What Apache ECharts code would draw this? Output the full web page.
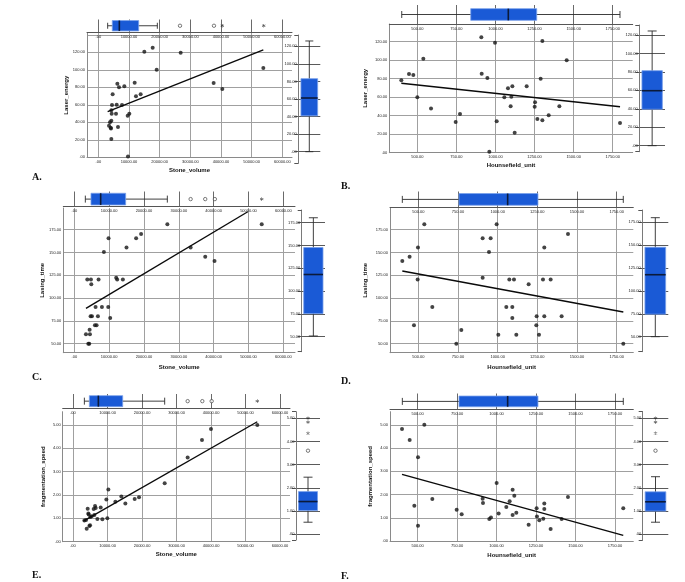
<!DOCTYPE html>
<html><head><meta charset="utf-8">
<script src="https://cdn.jsdelivr.net/npm/echarts@6/dist/echarts.min.js"></script>
<style>html,body{margin:0;padding:0;background:#fff}#c{width:685px;height:582px}</style>
</head><body><div id="c"></div>
<script>
// ---------------- data ----------------
const volumeTicks = [0, 10000, 20000, 30000, 40000, 50000, 60000];
const huTicks = [500, 750, 1000, 1250, 1500, 1750];
const energyTicks = [0, 20, 40, 60, 80, 100, 120];
const timeTicks = [50, 75, 100, 125, 150, 175];
const speedTicks = [0, 1, 2, 3, 4, 5];

const energyVsVolume = [[15000,120.8],[17720,125.3],[26850,119.6],[19020,100.2],[53800,102.1],[37600,85.0],[40430,78.1],[11850,85.3],[6200,84.2],[8480,81.2],[6740,80],[13800,72],[4670,72],[12280,69.7],[4460,59.8],[5980,60.2],[7720,59.8],[4240,53.7],[4350,49.9],[5760,49.9],[10110,49.9],[9570,47.6],[3800,40],[4240,41.9],[3480,36.2],[6410,34.7],[4020,33.9],[4130,32.8],[4240,21],[9670,0.8]];
const energyVsHU = [[397.6,78.2],[446.7,85.1],[474.4,84],[538.4,101.6],[500,59.8],[587.5,47.9],[745.3,33.2],[773,41.8],[909.5,124.7],[997,118.9],[911.7,85.4],[948,80.7],[1080,69.6],[1108,71.7],[1056.7,59.8],[1101.5,60.5],[1097,50.1],[1007.7,33.9],[960.7,1.1],[1122.8,21.6],[1199.6,71.7],[1253,54.4],[1250.8,49.7],[1300,120.7],[1289,80],[1268,36.4],[1300,35],[1340.4,40.4],[1455.6,99.8],[1408.7,50.1],[1796.9,32.1]];
const timeVsVolume = [[26710,180.9],[53800,180.9],[9825,165.5],[17740,165.5],[19170,170.2],[14980,155.6],[33390,155.6],[8490,150.5],[37580,145.4],[40250,140.6],[3720,120.5],[4770,120.5],[4870,115.1],[6960,120.5],[12020,122.4],[12300,120.5],[13930,120.5],[6100,90.2],[7920,90.2],[9730,90.2],[4670,80],[5060,80],[6770,80],[10300,78.1],[5910,70.1],[6390,70.1],[4390,65.4],[3340,60.2],[4480,60.2],[4010,50],[4290,50]];
const timeVsHU = [[399,140.6],[445,145.4],[537.8,180.9],[497.9,155.6],[495.8,120.5],[588.2,90.2],[472.7,70.1],[739.5,50],[771,65],[905.5,165.5],[955.9,165.5],[945.4,150.5],[905.5,122.4],[993.7,180.9],[1004.2,59.9],[1073.5,120.5],[1103,120.5],[1054.6,90.2],[1092.4,90.2],[1092.4,78.1],[1117.6,59.9],[1195.4,115.1],[1245.8,80],[1243.7,70.1],[1260.5,59.9],[1285.7,120.5],[1294,155.6],[1294,80],[1334,120.5],[1403.3,80],[1443.3,170.2],[1792,50]];
const speedVsVolume = [[53420,5.0],[39990,4.83],[37380,4.36],[33230,3.61],[26570,2.5],[10240,2.24],[9660,1.81],[14010,1.94],[12270,1.71],[15170,1.64],[17870,1.83],[19130,1.9],[6380,1.53],[6570,1.44],[8020,1.47],[4250,1.41],[4440,1.21],[4540,1.17],[6180,1.14],[5020,1.06],[3770,0.93],[3290,0.91],[7050,0.97],[8500,0.96],[9950,1.01],[4930,0.71],[4730,0.67],[3960,0.56],[5410,1.09],[5990,1.4]];
const speedVsHU = [[400.8,4.83],[449.3,4.35],[542.2,5.01],[502.1,3.61],[478.9,1.52],[502.1,0.66],[592.9,1.81],[747,1.35],[778.7,1.15],[911.6,1.82],[913.8,1.64],[953.9,0.95],[964.4,1.01],[1000.3,2.5],[1013,1.18],[1061.5,1.47],[1082.6,1.71],[1101.6,2.21],[1112.2,1.95],[1101.6,1.12],[1124.9,1.22],[1203,0.7],[1253.6,1.41],[1255.7,1.06],[1270.5,0.89],[1295.8,0.96],[1302.2,1.62],[1302.2,1.38],[1342.3,0.52],[1412,0.95],[1452.1,1.9],[1802.5,1.41]];

// regression line end points
const fitEnergyVolume = [[3040,52.2],[53800,122.7]];
const fitEnergyHU = [[397.6,75],[1796.9,49.7]];
const fitTimeVolume = [[3340,88.7],[49800,194.7]];
const fitTimeHU = [[399,129.7],[1792,84.7]];
const fitSpeedVolume = [[2995,0.886],[53420,5.14]];
const fitSpeedHU = [[400.8,2.87],[1802.5,0.24]];

// boxplots: [lower whisker, Q1, median, Q3, upper whisker]
const boxVolumeA = [3045, 4550, 6850, 13160, 19240];
const outVolumeA = [26630, 37710];
const extVolumeA = [40430, 53920];
const boxHUB = [400.2, 841.6, 1082, 1263.8, 1796.7];
const boxVolumeC = [3160, 4785, 7560, 14740, 26700];
const outVolumeC = [33390, 37580, 40350];
const extVolumeC = [53800];
const boxHUD = [399.2, 756.3, 1063, 1254, 1791.9];
const boxVolumeE = [3285, 4735, 7340, 14400, 26570];
const outVolumeE = [33230, 37480, 40190];
const extVolumeE = [53420];
const boxHUF = [402.8, 761.8, 1070, 1262, 1802.6];
const boxEnergyA = [0, 40.8, 61.1, 83.1, 126];
const boxEnergyB = [0, 39.5, 59.6, 81.3, 124.3];
const boxTimeC = [50.8, 75.3, 118.2, 147.8, 180.4];
const boxTimeD = [50, 74.6, 117.7, 147.7, 180];
const boxSpeedE = [0.52, 1.02, 1.41, 1.84, 2.46];
const boxSpeedF = [0.52, 1.0, 1.40, 1.83, 2.48];
const outSpeed = [3.6];
const extSpeed = [5.0, 4.83, 4.35];

// ---------------- layout ----------------
const layout = [
  {sc:[87,33,205,124.3], x:[-3695,63150], y:[0,142.1], st:[19.5,12.5], rt:[298.3,35,22,128.3], ry:[-13.2,132.8], bh:10.4, bc:6, rw:16.7, rc:8, xGap:10.4, yGap:16.7, lt:[32,172]},
  {sc:[389.3,24,243.4,128.7], x:[320.6,1878], y:[0,139.1], st:[5,19], rt:[639.3,25,25.7,126.7], ry:[-6.5,130.8], bh:11.7, bc:7, rw:20.4, rc:9, xGap:10, yGap:21.3, lt:[341,181]},
  {sc:[63.3,208,231.7,144.7], x:[-3167,63355], y:[40.1,198.8], st:[191.5,15.2], rt:[301.7,210,23.3,141.7], ry:[33.6,188.9], bh:11.7, bc:7, rw:19.3, rc:9, xGap:11.6, yGap:16.3, lt:[32,372]},
  {sc:[390,208,243.3,144.7], x:[321.5,1855], y:[40.1,198.8], st:[191.5,15.8], rt:[642.3,210,26,141.7], ry:[33.6,188.4], bh:11.7, bc:7, rw:20.7, rc:9, xGap:11.6, yGap:22, lt:[341,376]},
  {sc:[62.7,411.7,227.3,130], x:[-2995,62900], y:[0,5.57], st:[394,14.3], rt:[296,411.7,24,128.3], ry:[-0.246,5.28], bh:11, bc:7, rw:19, rc:9, xGap:9.6, yGap:16.4, lt:[32,570]},
  {sc:[390,411.7,243.3,129.3], x:[324.7,1866], y:[0,5.57], st:[393.5,15.8], rt:[642.7,411.7,25.6,128.3], ry:[-0.246,5.28], bh:10.7, bc:7, rw:20.7, rc:9, xGap:11, yGap:16.3, lt:[341,571]}
];

const panels = [
  {pts:energyVsVolume, fit:fitEnergyVolume, xt:volumeTicks, yt:energyTicks, tb:boxVolumeA, to:outVolumeA, ts:extVolumeA, rb:boxEnergyA, ro:[], rs:[], xn:'Stone_volume', yn:'Laser_energy', letter:'A.'},
  {pts:energyVsHU, fit:fitEnergyHU, xt:huTicks, yt:energyTicks, tb:boxHUB, to:[], ts:[], rb:boxEnergyB, ro:[], rs:[], xn:'Hounsefield_unit', yn:'Laser_energy', letter:'B.'},
  {pts:timeVsVolume, fit:fitTimeVolume, xt:volumeTicks, yt:timeTicks, tb:boxVolumeC, to:outVolumeC, ts:extVolumeC, rb:boxTimeC, ro:[], rs:[], xn:'Stone_volume', yn:'Lasing_time', letter:'C.'},
  {pts:timeVsHU, fit:fitTimeHU, xt:huTicks, yt:timeTicks, tb:boxHUD, to:[], ts:[], rb:boxTimeD, ro:[], rs:[], xn:'Hounsefield_unit', yn:'Lasing_time', letter:'D.'},
  {pts:speedVsVolume, fit:fitSpeedVolume, xt:volumeTicks, yt:speedTicks, tb:boxVolumeE, to:outVolumeE, ts:extVolumeE, rb:boxSpeedE, ro:outSpeed, rs:extSpeed, xn:'Stone_volume', yn:'fragmentation_speed', letter:'E.'},
  {pts:speedVsHU, fit:fitSpeedHU, xt:huTicks, yt:speedTicks, tb:boxHUF, to:[], ts:[], rb:boxSpeedF, ro:outSpeed, rs:extSpeed, xn:'Hounsefield_unit', yn:'fragmentation_speed', letter:'F.'}
];

// ---------------- build ----------------
const FONT = '"Liberation Sans", Arial, sans-serif';
const BOX = '#1a5ad6', BOXEDGE = '#79a0ea', MED = '#0b1a3a', WHISK = '#2a2a2a';
const STAR = 'path://M-0.15 -1 L0.15 -1 L0.15 1 L-0.15 1 Z M0.791 0.63 L0.941 0.37 L-0.791 -0.63 L-0.941 -0.37 Z M0.941 -0.37 L0.791 -0.63 L-0.941 0.37 L-0.791 0.63 Z';
const fmt = v => v === 0 ? '.00' : v.toFixed(2);
const labelFor = ticks => v => ticks.some(t => Math.abs(t - v) < 1e-6) ? fmt(v) : '';

function boxRenderer(horizontal, size, cap) {
  return function (params, api) {
    const cs = params.coordSys;
    const v = [0,1,2,3,4].map(i => api.value(i));
    const ws = {stroke: WHISK, lineWidth: 0.9};
    const els = [];
    if (horizontal) {
      const c = cs.y + cs.height / 2;
      const p = v.map(x => api.coord([x, 0.5])[0]);
      els.push({type:'line', shape:{x1:p[0], y1:c, x2:p[4], y2:c}, style:ws});
      els.push({type:'line', shape:{x1:p[0], y1:c-cap/2, x2:p[0], y2:c+cap/2}, style:ws});
      els.push({type:'line', shape:{x1:p[4], y1:c-cap/2, x2:p[4], y2:c+cap/2}, style:ws});
      els.push({type:'rect', shape:{x:p[1], y:c-size/2, width:p[3]-p[1], height:size}, style:{fill:BOX, stroke:BOXEDGE, lineWidth:0.8}});
      els.push({type:'line', shape:{x1:p[2], y1:c-size/2, x2:p[2], y2:c+size/2}, style:{stroke:MED, lineWidth:1.6}});
    } else {
      const c = cs.x + cs.width / 2;
      const p = v.map(y => api.coord([0.5, y])[1]);
      els.push({type:'line', shape:{x1:c, y1:p[0], x2:c, y2:p[4]}, style:ws});
      els.push({type:'line', shape:{x1:c-cap/2, y1:p[0], x2:c+cap/2, y2:p[0]}, style:ws});
      els.push({type:'line', shape:{x1:c-cap/2, y1:p[4], x2:c+cap/2, y2:p[4]}, style:ws});
      els.push({type:'rect', shape:{x:c-size/2, y:p[3], width:size, height:p[1]-p[3]}, style:{fill:BOX, stroke:BOXEDGE, lineWidth:0.8}});
      els.push({type:'line', shape:{x1:c-size/2, y1:p[2], x2:c+size/2, y2:p[2]}, style:{stroke:MED, lineWidth:1.6}});
    }
    return {type:'group', children:els};
  };
}

const grid = [], xAxis = [], yAxis = [], series = [], graphic = [];
const tickLbl = {fontSize:4, color:'#222', fontFamily:FONT};
const nameStyle = {fontSize:6, fontWeight:'bold', color:'#111', fontFamily:FONT};
const split = (color) => ({show:true, showMinLine:false, showMaxLine:false, lineStyle:{color, width:1}});

panels.forEach((p, i) => {
  const L = layout[i];
  const g0 = 3*i, g1 = 3*i+1, g2 = 3*i+2;
  const xs = p.xt[1]-p.xt[0], ys = p.yt[1]-p.yt[0];
  // scatter grid
  grid.push({left:L.sc[0], top:L.sc[1], width:L.sc[2], height:L.sc[3]});
  xAxis.push({gridIndex:g0, type:'value', min:L.x[0], max:L.x[1], minInterval:xs, maxInterval:xs,
    axisLine:{show:true, onZero:false, lineStyle:{color:'#8a8a8a', width:1}}, axisTick:{show:false},
    axisLabel:Object.assign({margin:2.5, formatter:labelFor(p.xt)}, tickLbl),
    splitLine:split('#a0a0a0'),
    name:p.xn, nameLocation:'middle', nameGap:L.xGap, nameTextStyle:nameStyle});
  yAxis.push({gridIndex:g0, type:'value', min:L.y[0], max:L.y[1], minInterval:ys, maxInterval:ys,
    axisLine:{show:true, onZero:false, lineStyle:{color:'#8a8a8a', width:1}}, axisTick:{show:false},
    axisLabel:Object.assign({margin:2, formatter:labelFor(p.yt)}, tickLbl),
    splitLine:split('#a0a0a0'),
    name:p.yn, nameLocation:'middle', nameGap:L.yGap, nameTextStyle:nameStyle});
  series.push({type:'scatter', xAxisIndex:g0, yAxisIndex:g0, data:p.pts, symbol:'circle', symbolSize:4,
    itemStyle:{color:'#151515'}, silent:true});
  series.push({type:'line', xAxisIndex:g0, yAxisIndex:g0, data:p.fit, symbol:'none',
    lineStyle:{color:'#0a0a0a', width:1.4}, silent:true});

  // top strip (horizontal boxplot)
  grid.push({left:L.sc[0], top:L.st[0], width:L.sc[2], height:L.st[1]});
  xAxis.push({gridIndex:g1, type:'value', min:L.x[0], max:L.x[1], minInterval:xs, maxInterval:xs,
    axisLine:{show:true, onZero:false, lineStyle:{color:'#555', width:1}}, axisTick:{show:false},
    axisLabel:Object.assign({margin:2.5, formatter:labelFor(p.xt)}, tickLbl),
    splitLine:split('#6a6a6a')});
  yAxis.push({gridIndex:g1, type:'value', min:0, max:1, show:false});
  series.push({type:'custom', xAxisIndex:g1, yAxisIndex:g1, data:[p.tb], silent:true,
    renderItem:boxRenderer(true, L.bh, L.bc)});
  if (p.to.length) series.push({type:'scatter', xAxisIndex:g1, yAxisIndex:g1, data:p.to.map(v => [v, 0.5]),
    symbol:'circle', symbolSize:3.4, itemStyle:{color:'#fff', borderColor:'#333', borderWidth:0.8}, silent:true});
  if (p.ts.length) series.push({type:'scatter', xAxisIndex:g1, yAxisIndex:g1, data:p.ts.map(v => [v, 0.5]),
    symbol:STAR, symbolSize:3.6, itemStyle:{color:'#222'}, silent:true});

  // right strip (vertical boxplot)
  grid.push({left:L.rt[0], top:L.rt[1], width:L.rt[2], height:L.rt[3]});
  xAxis.push({gridIndex:g2, type:'value', min:0, max:1, show:false});
  yAxis.push({gridIndex:g2, type:'value', min:L.ry[0], max:L.ry[1], minInterval:ys, maxInterval:ys,
    axisLine:{show:true, onZero:false, lineStyle:{color:'#7a7a7a', width:1}},
    axisTick:{show:true, length:4, lineStyle:{color:'#555'}},
    axisLabel:Object.assign({margin:1.5, formatter:labelFor(p.yt)}, tickLbl),
    splitLine:split('#5a5a5a')});
  series.push({type:'custom', xAxisIndex:g2, yAxisIndex:g2, data:[p.rb], silent:true,
    renderItem:boxRenderer(false, L.rw, L.rc)});
  if (p.ro.length) series.push({type:'scatter', xAxisIndex:g2, yAxisIndex:g2, data:p.ro.map(v => [0.5, v]),
    symbol:'circle', symbolSize:3.4, itemStyle:{color:'#fff', borderColor:'#333', borderWidth:0.8}, silent:true});
  if (p.rs.length) series.push({type:'scatter', xAxisIndex:g2, yAxisIndex:g2, data:p.rs.map(v => [0.5, v]),
    symbol:STAR, symbolSize:3.6, itemStyle:{color:'#222'}, silent:true});

  graphic.push({type:'text', left:L.lt[0], top:L.lt[1], silent:true,
    style:{text:p.letter, font:'bold 10px "Liberation Serif", "Times New Roman", serif', fill:'#111'}});
});

const chart = echarts.init(document.getElementById('c'), null, {renderer:'canvas'});
chart.setOption({animation:false, backgroundColor:'#fff', grid, xAxis, yAxis, series, graphic});
</script>
</body></html>
